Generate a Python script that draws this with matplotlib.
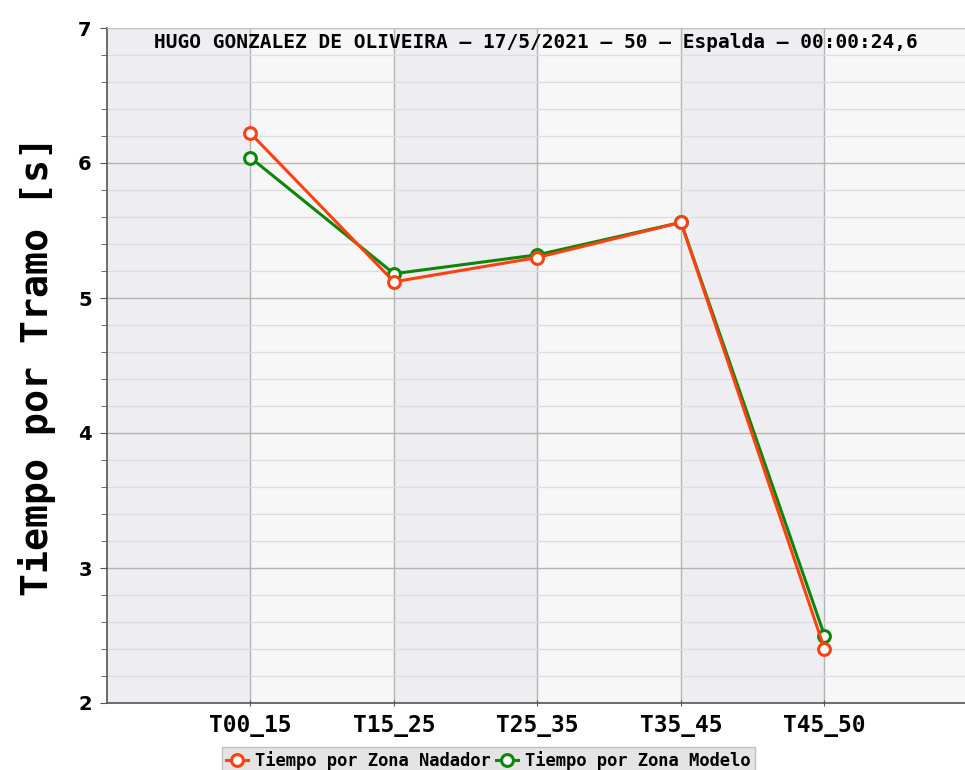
import matplotlib
matplotlib.use("Agg")
import matplotlib.pyplot as plt
from matplotlib.ticker import MultipleLocator
import numpy as np

categories = ["T00_15", "T15_25", "T25_35", "T35_45", "T45_50"]
nadador = [6.22, 5.12, 5.30, 5.56, 2.40]
modelo = [6.04, 5.18, 5.32, 5.56, 2.50]
title = "HUGO GONZALEZ DE OLIVEIRA – 17/5/2021 – 50 – Espalda – 00:00:24,6"
ylabel = "Tiempo por Tramo [s]"
label_nadador = "Tiempo por Zona Nadador"
label_modelo = "Tiempo por Zona Modelo"

mono = ["DejaVu Sans Mono"]
fig = plt.figure(figsize=(9.65, 7.7), dpi=100)
ax = fig.add_axes([107/965, 67/770, 861/965, (703-28)/770])

x = np.arange(len(categories))
ax.set_xlim(-1, len(categories))
ax.set_ylim(2, 7)

# alternating bands
for i in range(-1, len(categories)):
    col = "#eeeef2" if (i + 1) % 2 == 0 else "#f7f7f7"
    ax.axvspan(i, i + 1, color=col, zorder=0, lw=0)

ax.yaxis.set_major_locator(MultipleLocator(1))
ax.yaxis.set_minor_locator(MultipleLocator(0.2))
ax.grid(which="major", axis="y", color="#b4b4b4", lw=1.0, zorder=1)
ax.grid(which="minor", axis="y", color="#dedede", lw=1.0, zorder=1)
ax.set_xticks(x)
ax.set_xticklabels(categories, fontfamily=mono, fontweight="bold", fontsize=16.5)
ax.grid(which="major", axis="x", color="#b4b4b4", lw=1.0, zorder=1)
ax.set_axisbelow(True)

ax.plot(x, modelo, color="#0a870a", lw=2.2, marker="o", ms=8.5,
        mfc="white", mec="#0a870a", mew=2.2, zorder=3, label=label_modelo)
ax.plot(x, nadador, color="#ff4010", lw=2.2, marker="o", ms=8.5,
        mfc="white", mec="#ff4010", mew=2.2, zorder=4, label=label_nadador)

for lab in ax.get_yticklabels():
    lab.set_fontweight("bold")
    lab.set_fontsize(14)
ax.tick_params(axis="y", which="major", length=5, color="#555555", pad=6)
ax.tick_params(axis="y", which="minor", length=4, color="#555555")
ax.tick_params(axis="x", length=4, color="#555555", pad=6, direction="inout")

ax.set_ylabel(ylabel, fontfamily=mono, fontweight="bold", fontsize=27.5, labelpad=16)

ax.spines["right"].set_visible(False)
ax.spines["top"].set_color("#c4c4c4")
ax.spines["left"].set_color("#555555")
ax.spines["bottom"].set_color("#555555")
ax.spines["left"].set_linewidth(1.2)
ax.spines["bottom"].set_linewidth(1.2)

ax.text(0.5 * 858 / 861, 1 - 15/675, title, transform=ax.transAxes, ha="center", va="center",
        fontfamily=mono, fontweight="bold", fontsize=14, zorder=5)

h, l = ax.get_legend_handles_labels()
leg = fig.legend(h[::-1], l[::-1], loc="upper center", bbox_to_anchor=(488/965, 1 - 747/770),
                 ncol=2, frameon=True, fancybox=False, borderpad=0.25, handlelength=1.3,
                 handletextpad=0.4, columnspacing=0.3, borderaxespad=0,
                 prop={"family": mono, "weight": "bold", "size": 12.3})
leg.get_frame().set_facecolor("#e4e4e4")
leg.get_frame().set_edgecolor("#c0c0c0")
leg.get_frame().set_alpha(1)

fig.savefig("out.png", dpi=100)
